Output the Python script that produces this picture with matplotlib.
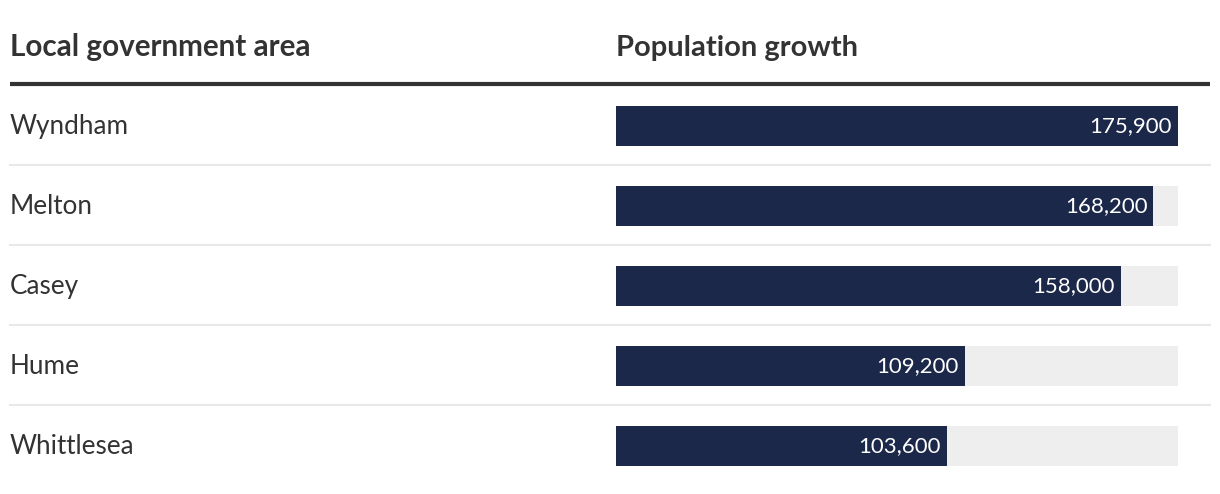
import matplotlib.pyplot as plt

# data
areas = ["Wyndham", "Melton", "Casey", "Hume", "Whittlesea"]
growth = [175900, 168200, 158000, 109200, 103600]
col_titles = ["Local government area", "Population growth"]

W, H = 1220, 494
fig = plt.figure(figsize=(W / 100, H / 100), dpi=100)
fig.patch.set_facecolor("white")

# background axes in pixel units for text and rules
bg = fig.add_axes([0, 0, 1, 1])
bg.set_xlim(0, W)
bg.set_ylim(H, 0)
bg.axis("off")

fam = ["Lato", "DejaVu Sans"]
row_y = [126 + 80 * i for i in range(len(areas))]

bg.text(10, 56, col_titles[0], fontsize=21.3, fontweight="bold", color="#333333",
        family=fam, va="baseline")
bg.text(616, 56, col_titles[1], fontsize=21, fontweight="bold", color="#333333",
        family=fam, va="baseline")
bg.plot([10, 1210], [84, 84], color="#333333", lw=3, solid_capstyle="butt")

for i, name in enumerate(areas):
    bg.text(10, row_y[i], name, fontsize=18.8, color="#333333", family=fam, va="center")
    if i < len(areas) - 1:
        bg.plot([10, 1210], [row_y[i] + 39, row_y[i] + 39], color="#e8e8e8", lw=1.5)

# bar axes
ax = fig.add_axes([616 / W, 0, 562 / W, 1])
ax.set_xlim(0, max(growth))
ax.set_ylim(H, 0)
ax.axis("off")
ax.barh(row_y, [max(growth)] * len(growth), height=40, color="#eeeeee")
ax.barh(row_y, growth, height=40, color="#1c2849")
for y, v in zip(row_y, growth):
    ax.annotate(f"{v:,}", (v, y), xytext=(-6, 0), textcoords="offset pixels",
                ha="right", va="center", color="white", fontsize=16, family=fam)

fig.savefig("out.png", dpi=100)
